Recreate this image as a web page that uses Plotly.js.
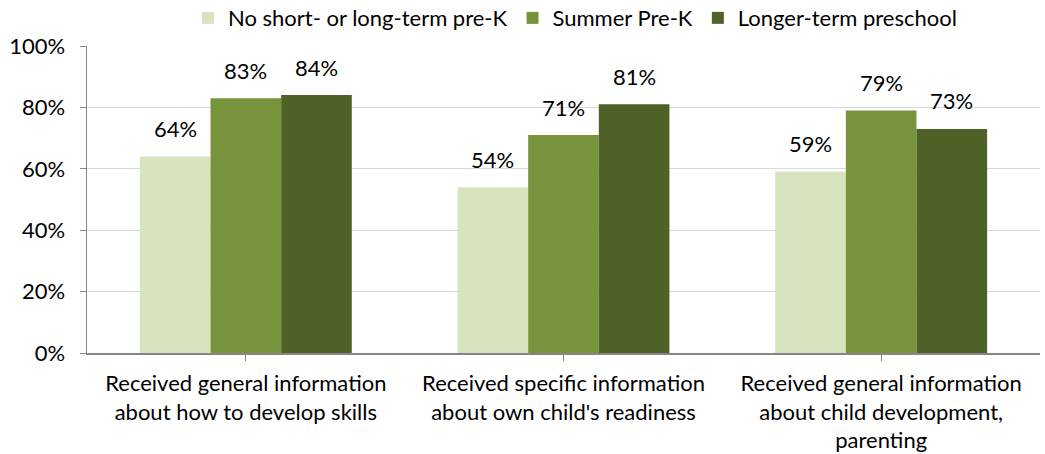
<!DOCTYPE html>
<html>
<head>
<meta charset="utf-8">
<script src="https://cdn.plot.ly/plotly-3.0.1.min.js"></script>
<style>html,body{margin:0;padding:0;background:#fff;}#chart{width:1045px;height:454px;}</style>
</head>
<body>
<div id="chart"></div>
<script>
const categories = [
  "Received general information<br>about how to develop skills",
  "Received specific information<br>about own child's readiness",
  "Received general information<br>about child development,<br>parenting"
];
const seriesNames = ["No short- or long-term pre-K", "Summer Pre-K", "Longer-term preschool"];
const noPreK = [64, 54, 59];
const summerPreK = [83, 71, 79];
const longerTerm = [84, 81, 73];
const yTickVals = [0, 20, 40, 60, 80, 100];
const yTickText = ["0%", "20%", "40%", "60%", "80%", "100%"];

const colors = ["#d7e4bd", "#77933c", "#4f6228"];
const series = [noPreK, summerPreK, longerTerm];
const idx = categories.map((c, i) => i);
const bargap = 0.333;
const barW = (1 - bargap) / series.length;
const FONT = "Lato, 'Open Sans', sans-serif";

const traces = series.map((vals, j) => ({
  type: "bar",
  name: seriesNames[j],
  x: idx,
  y: vals,
  marker: {color: colors[j], line: {width: 0}},
  hoverinfo: "skip"
}));

const annotations = [];
series.forEach((vals, j) => {
  vals.forEach((v, i) => {
    annotations.push({
      x: i + (j - 1) * barW,
      y: v,
      xref: "x", yref: "y",
      text: v + "%",
      showarrow: false,
      yanchor: "middle",
      yshift: 28,
      font: {family: FONT, size: 22, color: "#000"}
    });
  });
});

const layout = {
  width: 1045, height: 454,
  margin: {l: 87, r: 5, t: 46, b: 101, autoexpand: false},
  paper_bgcolor: "#fff", plot_bgcolor: "#fff",
  barmode: "group",
  bargap: bargap,
  bargroupgap: 0,
  font: {family: FONT, size: 22, color: "#000"},
  showlegend: true,
  legend: {
    orientation: "h", x: 0.512, xanchor: "center", y: 1.091, yanchor: "middle",
    font: {family: FONT, size: 22}, traceorder: "normal", itemclick: false
  },
  xaxis: {
    tickmode: "array", tickvals: idx, ticktext: categories,
    range: [-0.5, 2.5],
    showline: true, linecolor: "#868686", linewidth: 1.5,
    ticks: "outside", tickson: "boundaries", ticklen: 6, tickcolor: "#868686",
    ticklabelstandoff: 4,
    showgrid: false, zeroline: false,
    tickfont: {family: FONT, size: 22}
  },
  yaxis: {
    range: [0, 100],
    tickmode: "array", tickvals: yTickVals, ticktext: yTickText,
    showline: true, linecolor: "#868686", linewidth: 1.5,
    ticks: "outside", ticklen: 6, tickcolor: "#868686",
    ticklabelstandoff: 10,
    showgrid: true, gridcolor: "#d9d9d9", gridwidth: 1,
    zeroline: false,
    tickfont: {family: FONT, size: 22}
  },
  annotations: annotations
};

Plotly.newPlot("chart", traces, layout, {displayModeBar: false, staticPlot: true});
</script>
</body>
</html>
